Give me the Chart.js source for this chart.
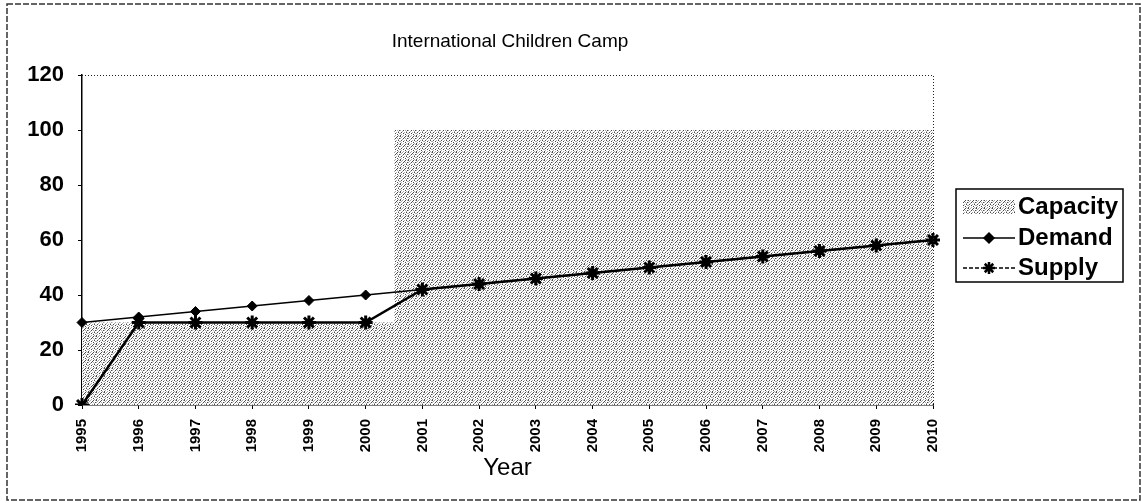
<!DOCTYPE html>
<html>
<head>
<meta charset="utf-8">
<script src="https://cdn.jsdelivr.net/npm/chart.js@4.4.1/dist/chart.umd.min.js"></script>
<style>
    html, body { margin: 0; padding: 0; background: #fff; }
    #wrap { width: 1141px; height: 503px; }
</style>
</head>
<body>
<div id="wrap"><canvas id="campChart" width="1141" height="503"></canvas></div>
<script>
const years = ['1995', '1996', '1997', '1998', '1999', '2000', '2001', '2002',
    '2003', '2004', '2005', '2006', '2007', '2008', '2009', '2010'];
const capacity = [30, 30, 30, 30, 30, 30, 100, 100, 100, 100, 100, 100, 100, 100, 100, 100];
const demand = [30, 32, 34, 36, 38, 40, 42, 44, 46, 48, 50, 52, 54, 56, 58, 60];
const supply = [0, 30, 30, 30, 30, 30, 42, 44, 46, 48, 50, 52, 54, 56, 58, 60];
const chartTitle = 'International Children Camp';
const axisTitle = 'Year';
const fontName = '"Liberation Sans", Arial, sans-serif';

// stippled grey fill, like the scanned pattern (d = dark dot, g = grey dot)
const stippleRows = [
    'd.g..d.g',
    '.g..d...',
    'g..d.g.d',
    '..g...g.',
    '.d..g.d.',
    'g..d...g',
    '.g...d..',
    'd..g..g.',
];

function makeStipple() {
    const tile = document.createElement('canvas');
    tile.width = 8;
    tile.height = 8;
    const c = tile.getContext('2d');
    c.fillStyle = '#fff';
    c.fillRect(0, 0, 8, 8);
    stippleRows.forEach((row, y) => {
        [...row].forEach((ch, x) => {
            if (ch === '.') return;
            c.fillStyle = ch === 'd' ? '#4a4a4a' : '#aaaaaa';
            c.fillRect(x, y, 1, 1);
        });
    });
    return c.createPattern(tile, 'repeat');
}
const stipple = makeStipple();

const framePlugin = {
    id: 'frame',
    beforeDraw(chart) {
        const ctx = chart.ctx;
        ctx.save();
        ctx.fillStyle = '#fff';
        ctx.fillRect(0, 0, chart.width, chart.height);
        ctx.strokeStyle = '#333';
        ctx.lineWidth = 1.5;
        ctx.setLineDash([6, 2]);
        ctx.strokeRect(7, 4, 1133, 496);
        ctx.restore();
    },
    afterDraw(chart) {
        const ctx = chart.ctx;
        const area = chart.chartArea;
        ctx.save();
        // dotted top and right plot border
        ctx.strokeStyle = '#222';
        ctx.lineWidth = 1;
        ctx.setLineDash([1, 2]);
        ctx.beginPath();
        ctx.moveTo(area.left, area.top + 0.5);
        ctx.lineTo(area.right + 0.5, area.top + 0.5);
        ctx.lineTo(area.right + 0.5, area.bottom);
        ctx.stroke();
        ctx.setLineDash([]);

        // title
        ctx.fillStyle = '#000';
        ctx.font = '19px ' + fontName;
        ctx.textAlign = 'center';
        ctx.textBaseline = 'middle';
        ctx.fillText(chartTitle, 510, 42);

        // legend
        const box = { x: 956, y: 189, w: 167, h: 93 };
        ctx.strokeStyle = '#000';
        ctx.lineWidth = 1.5;
        ctx.strokeRect(box.x, box.y, box.w, box.h);
        const rows = [207, 238, 268];
        const names = ['Capacity', 'Demand', 'Supply'];
        ctx.textAlign = 'left';
        ctx.font = 'bold 24px ' + fontName;
        names.forEach((name, i) => ctx.fillText(name, 1018, rows[i]));

        ctx.fillStyle = stipple;
        ctx.fillRect(963, rows[0] - 7, 52, 14);

        ctx.lineWidth = 1.5;
        ctx.beginPath();
        ctx.moveTo(963, rows[1]);
        ctx.lineTo(1015, rows[1]);
        ctx.stroke();
        Chart.helpers.drawPoint(ctx, { pointStyle: 'rectRot', radius: 5, borderWidth: 1 }, 989, rows[1]);
        ctx.fillStyle = '#000';
        ctx.fill();

        ctx.setLineDash([4, 2]);
        ctx.beginPath();
        ctx.moveTo(963, rows[2]);
        ctx.lineTo(1015, rows[2]);
        ctx.stroke();
        ctx.setLineDash([]);
        ctx.lineWidth = 2.5;
        Chart.helpers.drawPoint(ctx, { pointStyle: 'star', radius: 6, borderWidth: 2.5 }, 989, rows[2]);
        ctx.restore();
    },
};

new Chart(document.getElementById('campChart'), {
    type: 'line',
    data: {
        labels: years,
        datasets: [
            {
                label: 'Demand',
                data: demand,
                borderColor: '#000',
                backgroundColor: '#000',
                borderWidth: 1.5,
                pointStyle: 'rectRot',
                pointRadius: 5,
                pointBorderWidth: 1,
                fill: false,
            },
            {
                label: 'Supply',
                data: supply,
                borderColor: '#000',
                backgroundColor: '#000',
                borderWidth: 2.5,
                pointStyle: 'star',
                pointRadius: 7,
                pointBorderWidth: 3,
                fill: false,
            },
            {
                label: 'Capacity',
                data: capacity,
                stepped: 'middle',
                borderWidth: 0,
                borderColor: 'rgba(0,0,0,0)',
                backgroundColor: stipple,
                pointRadius: 0,
                fill: 'origin',
            },
        ],
    },
    options: {
        responsive: false,
        animation: false,
        layout: { padding: { top: 75, right: 208, left: 0, bottom: 0 } },
        plugins: {
            legend: { display: false },
            title: { display: false },
            tooltip: { enabled: false },
        },
        scales: {
            x: {
                offset: false,
                grid: { display: true, drawOnChartArea: false, drawTicks: true, tickLength: 4, color: '#000' },
                border: { display: true, color: '#000', width: 1.5 },
                ticks: {
                    color: '#000',
                    font: { family: fontName, size: 15, weight: 'bold' },
                    minRotation: 90,
                    maxRotation: 90,
                    autoSkip: false,
                    padding: 10,
                },
                title: {
                    display: true,
                    text: axisTitle,
                    color: '#000',
                    font: { family: fontName, size: 24 },
                    padding: { top: 0, bottom: 20 },
                },
                afterFit: scale => { scale.height = 98; },
            },
            y: {
                min: 0,
                max: 120,
                grid: { display: true, drawOnChartArea: false, drawTicks: true, tickLength: 4, color: '#000' },
                border: { display: true, color: '#000', width: 1.5 },
                ticks: {
                    stepSize: 20,
                    color: '#000',
                    font: { family: fontName, size: 22, weight: 'bold' },
                    padding: 14,
                },
                afterFit: scale => { scale.width = 82; },
            },
        },
    },
    plugins: [framePlugin],
});
</script>
</body>
</html>
